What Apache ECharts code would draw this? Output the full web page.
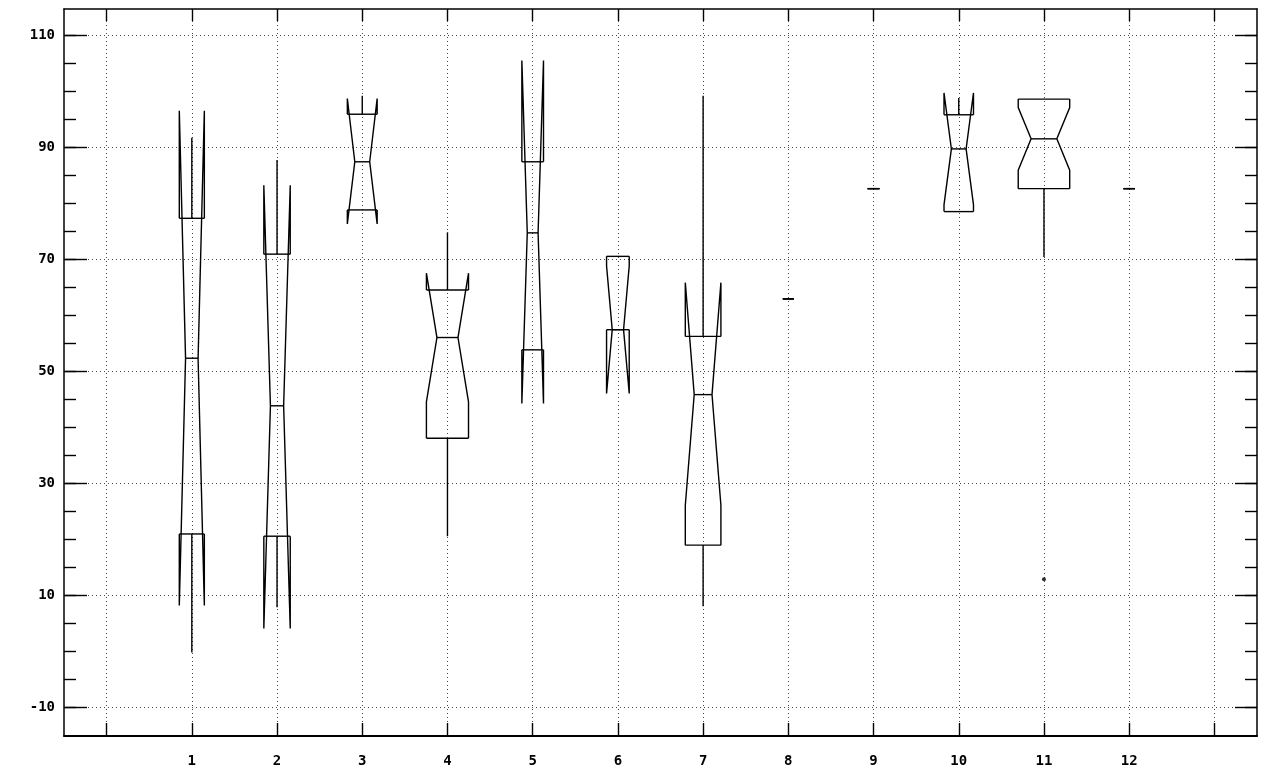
<!DOCTYPE html>
<html>
<head>
<meta charset="utf-8">
<script src="https://cdn.jsdelivr.net/npm/echarts@6/dist/echarts.min.js"></script>
<style>
html,body{margin:0;padding:0;background:#fff;}
#chart{width:1268px;height:773px;}
</style>
</head>
<body>
<div id="chart"></div>
<script>
// ---- data ----
const categories = ['', '1', '2', '3', '4', '5', '6', '7', '8', '9', '10', '11', '12', ''];
const groupIndex = [1, 2, 3, 4, 5, 6, 7, 8, 9, 10, 11, 12];
const lowerQuartile = [20.9, 20.5, 78.8, 38.0, 53.8, 57.4, 18.9, 62.9, 82.6, 78.5, 82.6, 82.6];
const medianValue   = [52.3, 43.8, 87.4, 56.0, 74.7, 57.4, 45.8, 62.9, 82.6, 89.7, 91.5, 82.6];
const upperQuartile = [77.3, 70.9, 95.9, 64.5, 87.4, 70.5, 56.2, 62.9, 82.6, 95.8, 98.6, 82.6];
const notchLow      = [8.1, 4.0, 76.3, 44.5, 44.2, 46.0, 26.0, 62.9, 82.6, 79.7, 85.9, 82.6];
const notchHigh     = [96.5, 83.2, 98.7, 67.5, 105.5, 68.8, 65.8, 62.9, 82.6, 99.7, 97.1, 82.6];
const whiskerLow    = [-0.3, 7.8, 78.8, 20.5, 53.8, 57.4, 8.0, 62.9, 82.6, 78.5, 70.4, 82.6];
const whiskerHigh   = [91.7, 87.7, 99.2, 74.8, 87.4, 70.5, 99.2, 62.9, 82.6, 98.8, 98.6, 82.6];
// relative group size (box width as a share of the category band)
const groupSize     = [0.147, 0.155, 0.175, 0.247, 0.127, 0.133, 0.209, 0.065, 0.07, 0.173, 0.302, 0.068];
const outlierGroup = [11];
const outlierValue = [12.8];
const yTickLabels = [-10, 10, 30, 50, 70, 90, 110];
const yMinorTicks = [-10, -5, 0, 5, 10, 15, 20, 25, 30, 35, 40, 45, 50, 55, 60, 65, 70, 75, 80, 85, 90, 95, 100, 105, 110];
const yMin = -15.2;
const yMax = 114.7;

// ---- chart ----
const boxData = groupIndex.map((g, i) => [g, lowerQuartile[i], medianValue[i], upperQuartile[i],
  notchLow[i], notchHigh[i], whiskerLow[i], whiskerHigh[i], groupSize[i]]);
const outlierData = outlierGroup.map((g, i) => [g, outlierValue[i]]);

const LINE = '#000';
const labelFont = { color: '#000', fontFamily: 'DejaVu Sans Mono', fontWeight: 'bold', fontSize: 14 };
const gridDots = { color: '#444', type: [1, 3], width: 1 };

function renderBox(params, api) {
  const c = api.value(0);
  const q1 = api.value(1), med = api.value(2), q3 = api.value(3);
  const nLo = api.value(4), nHi = api.value(5);
  const wLo = api.value(6), wHi = api.value(7);
  const band = api.size([1, 0])[0];
  const full = band * api.value(8);
  const narrow = full / 2;
  const x = api.coord([c, med])[0];
  const y = v => api.coord([c, v])[1];
  const style = { stroke: LINE, lineWidth: 1.4, fill: null };
  const side = s => ({
    type: 'polyline',
    shape: { points: [[x + s * full, y(q3)], [x + s * full, y(nHi)], [x + s * narrow, y(med)], [x + s * full, y(nLo)], [x + s * full, y(q1)]] },
    style: style
  });
  const hline = (v, hw) => ({ type: 'line', shape: { x1: x - hw, y1: y(v), x2: x + hw, y2: y(v) }, style: style });
  const children = [side(1), side(-1), hline(q3, full), hline(q1, full), hline(med, narrow)];
  if (wHi > q3) children.push({ type: 'line', shape: { x1: x, y1: y(q3), x2: x, y2: y(wHi) }, style: style });
  if (wLo < q1) children.push({ type: 'line', shape: { x1: x, y1: y(q1), x2: x, y2: y(wLo) }, style: style });
  return { type: 'group', children: children };
}

const chart = echarts.init(document.getElementById('chart'), null, { renderer: 'canvas' });
chart.setOption({
  animation: false,
  backgroundColor: '#fff',
  grid: { left: 64, right: 11, top: 9, bottom: 37, containLabel: false },
  xAxis: [
    {
      type: 'category', data: categories, position: 'bottom', boundaryGap: true,
      axisLine: { show: true, onZero: false, lineStyle: { color: LINE, width: 2 } },
      axisTick: { show: true, inside: true, length: 13, alignWithLabel: true, lineStyle: { color: LINE, width: 1.4 } },
      axisLabel: Object.assign({ margin: 18, interval: 0 }, labelFont),
      splitLine: { show: true, alignWithLabel: true, interval: 0, lineStyle: gridDots }
    },
    {
      type: 'category', data: categories, position: 'top', boundaryGap: true,
      axisLine: { show: true, onZero: false, lineStyle: { color: LINE, width: 1.5 } },
      axisTick: { show: true, inside: true, length: 12, alignWithLabel: true, lineStyle: { color: LINE, width: 1.4 } },
      axisLabel: { show: false },
      splitLine: { show: false }
    }
  ],
  yAxis: [
    {
      type: 'value', position: 'left', min: yMin, max: yMax,
      axisLine: { show: true, onZero: false, lineStyle: { color: LINE, width: 1.5 } },
      axisTick: { show: true, inside: true, length: 23, customValues: yTickLabels, lineStyle: { color: LINE, width: 1.4 } },
      axisLabel: Object.assign({ margin: 9, customValues: yTickLabels }, labelFont),
      splitLine: { show: true, lineStyle: gridDots }
    },
    {
      type: 'value', position: 'left', min: yMin, max: yMax,
      axisLine: { show: false, onZero: false },
      axisTick: { show: true, inside: true, length: 12, customValues: yMinorTicks, lineStyle: { color: LINE, width: 1.4 } },
      axisLabel: { show: false },
      splitLine: { show: false }
    },
    {
      type: 'value', position: 'right', min: yMin, max: yMax,
      axisLine: { show: true, onZero: false, lineStyle: { color: LINE, width: 1.5 } },
      axisTick: { show: true, inside: true, length: 22, customValues: yTickLabels, lineStyle: { color: LINE, width: 1.4 } },
      axisLabel: { show: false },
      splitLine: { show: false }
    },
    {
      type: 'value', position: 'right', min: yMin, max: yMax,
      axisLine: { show: false, onZero: false },
      axisTick: { show: true, inside: true, length: 12, customValues: yMinorTicks, lineStyle: { color: LINE, width: 1.4 } },
      axisLabel: { show: false },
      splitLine: { show: false }
    }
  ],
  series: [
    {
      type: 'custom', name: 'boxes', xAxisIndex: 0, yAxisIndex: 0,
      renderItem: renderBox,
      encode: { x: 0, y: [1, 2, 3, 4, 5, 6, 7] },
      data: boxData, silent: true, clip: false
    },
    {
      type: 'scatter', name: 'outliers', xAxisIndex: 0, yAxisIndex: 0,
      symbol: 'circle', symbolSize: 4,
      itemStyle: { color: LINE },
      data: outlierData, silent: true
    }
  ]
});
</script>
</body>
</html>
